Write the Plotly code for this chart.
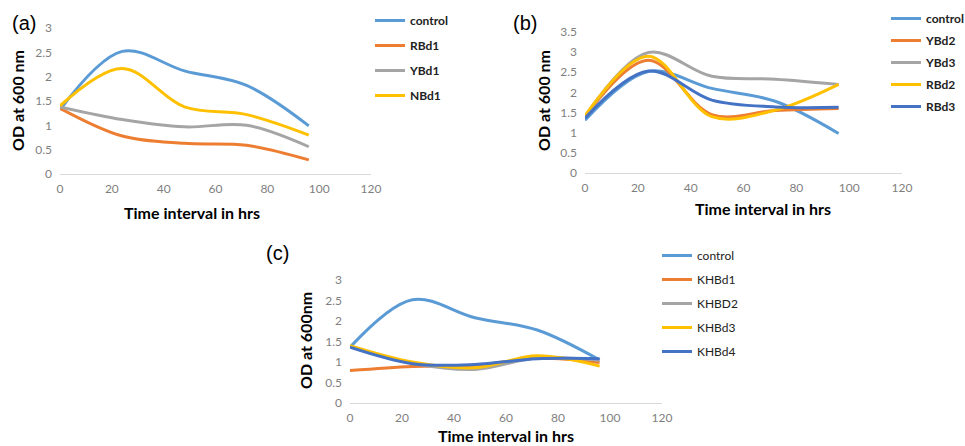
import plotly.graph_objects as go

hours = [0, 24, 48, 72, 96]

# Panel (a)
a_names = ["control", "RBd1", "YBd1", "NBd1"]
a_control = [1.32, 2.52, 2.12, 1.82, 0.99]
a_rbd1 = [1.35, 0.78, 0.63, 0.59, 0.29]
a_ybd1 = [1.38, 1.12, 0.97, 1.00, 0.56]
a_nbd1 = [1.40, 2.17, 1.38, 1.22, 0.80]

# Panel (b)
b_names = ["control", "YBd2", "YBd3", "RBd2", "RBd3"]
b_control = [1.31, 2.52, 2.10, 1.78, 0.98]
b_ybd2 = [1.40, 2.80, 1.45, 1.55, 1.60]
b_ybd3 = [1.40, 2.99, 2.40, 2.33, 2.20]
b_rbd2 = [1.42, 2.90, 1.40, 1.56, 2.20]
b_rbd3 = [1.36, 2.53, 1.81, 1.64, 1.63]

# Panel (c)
c_names = ["control", "KHBd1", "KHBD2", "KHBd3", "KHBd4"]
c_control = [1.36, 2.52, 2.08, 1.78, 1.05]
c_khbd1 = [0.79, 0.89, 0.92, 1.09, 0.99]
c_khbd2 = [1.38, 0.97, 0.82, 1.10, 1.04]
c_khbd3 = [1.40, 1.00, 0.86, 1.15, 0.90]
c_khbd4 = [1.36, 0.96, 0.94, 1.08, 1.08]

x_ticks = [0, 20, 40, 60, 80, 100, 120]

BLUE = "#5B9BD5"
ORANGE = "#ED7D31"
GREY = "#A5A5A5"
YELLOW = "#FFC000"
DBLUE = "#4472C4"

FONT = "Lato"
W, H = 965, 446

fig = go.Figure()

def add(series, name, color, xa, ya, legend):
    fig.add_trace(go.Scatter(
        x=hours, y=series, name=name, mode="lines",
        line=dict(color=color, width=3, shape="spline", smoothing=1.0),
        xaxis=xa, yaxis=ya, legend=legend, legendgroup=legend + name,
    ))

for s, n, c in zip([a_control, a_rbd1, a_ybd1, a_nbd1], a_names, [BLUE, ORANGE, GREY, YELLOW]):
    add(s, n, c, "x", "y", "legend")
for s, n, c in zip([b_control, b_ybd2, b_ybd3, b_rbd2, b_rbd3], b_names, [BLUE, ORANGE, GREY, YELLOW, DBLUE]):
    add(s, n, c, "x2", "y2", "legend2")
for s, n, c in zip([c_control, c_khbd1, c_khbd2, c_khbd3, c_khbd4], c_names, [BLUE, ORANGE, GREY, YELLOW, DBLUE]):
    add(s, n, c, "x3", "y3", "legend3")

def px(v):
    return v / W

def py(v):
    return 1 - v / H

tickfont = dict(family=FONT, size=12, color="#7F7F7F")

def xaxis(dom, anchor):
    return dict(domain=dom, anchor=anchor, range=[0, 120], tickvals=x_ticks,
                showgrid=False, zeroline=False, showline=True, linecolor="#D9D9D9",
                linewidth=1, tickfont=tickfont, ticks="", ticklabelstandoff=4)

def yaxis(dom, anchor, rng, dt):
    return dict(domain=dom, anchor=anchor, range=rng, dtick=dt, showgrid=False,
                zeroline=False, showline=False, tickfont=tickfont, ticks="",
                ticklabelstandoff=7)

legfont_bold = dict(family=FONT, size=12, color="#222222", weight="bold")
legfont = dict(family=FONT, size=12, color="#222222")

fig.update_layout(
    width=W, height=H, margin=dict(l=0, r=0, t=0, b=0, autoexpand=False),
    paper_bgcolor="white", plot_bgcolor="white",
    xaxis=xaxis([px(60), px(371)], "y"),
    yaxis=yaxis([py(174), py(28)], "x", [0, 3], 0.5),
    xaxis2=xaxis([px(585), px(902)], "y2"),
    yaxis2=yaxis([py(173), py(32)], "x2", [0, 3.5], 0.5),
    xaxis3=xaxis([px(350), px(662)], "y3"),
    yaxis3=yaxis([py(403), py(280)], "x3", [0, 3], 0.5),
    legend=dict(x=px(370), y=py(6), xanchor="left", yanchor="top", font=legfont_bold,
                tracegroupgap=6, itemwidth=30, bgcolor="rgba(0,0,0,0)"),
    legend2=dict(x=px(886), y=py(4), xanchor="left", yanchor="top", font=legfont_bold,
                 tracegroupgap=3, itemwidth=30, bgcolor="rgba(0,0,0,0)"),
    legend3=dict(x=px(657), y=py(241), xanchor="left", yanchor="top", font=legfont,
                 tracegroupgap=5, itemwidth=30, bgcolor="rgba(0,0,0,0)"),
    showlegend=True,
)

title_font = dict(family=FONT, size=16, color="black", weight="bold")
ann = []
for txt, x, y in [("Time interval in hrs", 192, 213), ("Time interval in hrs", 763, 208),
                  ("Time interval in hrs", 506, 435)]:
    ann.append(dict(text=txt, x=px(x), y=py(y), xref="paper", yref="paper",
                    showarrow=False, font=title_font, xanchor="center", yanchor="middle"))
for txt, x, y in [("OD at 600 nm", 17, 101), ("OD at 600 nm", 543, 101), ("OD at 600nm", 305, 341)]:
    ann.append(dict(text=txt, x=px(x), y=py(y), xref="paper", yref="paper", textangle=-90,
                    showarrow=False, font=title_font, xanchor="center", yanchor="middle"))
for txt, x, y in [("(a)", 24, 23), ("(b)", 525, 23), ("(c)", 277, 253)]:
    ann.append(dict(text=txt, x=px(x), y=py(y), xref="paper", yref="paper",
                    showarrow=False, font=dict(family="Liberation Sans", size=20, color="black"),
                    xanchor="center", yanchor="middle"))
fig.update_layout(annotations=ann)

fig.write_html(
    "out.html",
    config={"displayModeBar": False},
    post_script="document.body.style.margin='0';document.body.style.overflow='hidden';",
)
